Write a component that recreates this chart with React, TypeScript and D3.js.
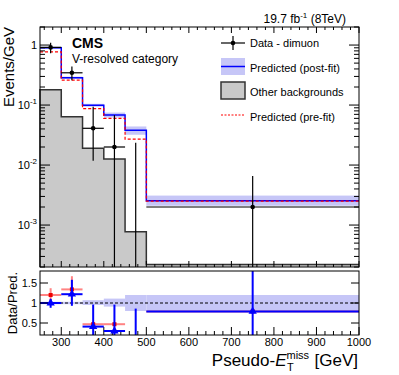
import React from "react";
import * as d3 from "d3";

const binEdges = [250, 300, 350, 400, 450, 500, 1000];
const postFit = [0.9, 0.285, 0.099, 0.068, 0.038, 0.00254];
const postFitLo = [0.86, 0.272, 0.094, 0.062, 0.032, 0.0021];
const postFitHi = [0.94, 0.298, 0.105, 0.075, 0.044, 0.0031];
const preFit = [0.77, 0.26, 0.087, 0.06, 0.027, 0.0025];
const otherBkg = [0.18, 0.064, 0.019, 0.0126, 0.00077, 0.00022];

const dataX = [275, 325, 375, 425, 475, 750];
const dataY = [0.915, 0.345, 0.041, 0.02, 0, 0.002];
const dataHi = [1.09, 0.44, 0.094, 0.068, 0.0235, 0.0066];
const dataLo = [0.73, 0.26, 0.0118, 0, 0, 0];

const ratioBandLo = [0.97, 0.97, 0.95, 0.91, 0.8, 0.8];
const ratioBandHi = [1.03, 1.03, 1.07, 1.11, 1.2, 1.2];
const ratioPost = [1.0, 1.22, 0.41, 0.3, null, 0.79];
const ratioPostLo = [0.88, 0.93, 0.2, 0.2, 0.2, 0.2];
const ratioPostHi = [1.1, 1.58, 0.96, 0.96, 0.86, 1.8];
const ratioPre = [1.2, 1.34, 0.47, 0.47, null, 0.79];
const ratioPreLo = [1.05, 1.05, 0.44, 0.44, null, 0.79];
const ratioPreHi = [1.37, 1.67, 0.5, 0.5, null, 0.79];

const xTicks = [300, 400, 500, 600, 700, 800, 900, 1000];
const yTicks = [1, 0.1, 0.01, 0.001];
const ratioTicks = [0.5, 1, 1.5];

const FONT = "Liberation Sans, Arial, Helvetica, sans-serif";

const x = d3.scaleLinear().domain([250, 1000]).range([40, 359]);
const y = d3.scaleLog().domain([2e-4, 2]).range([267, 27]);
const yr = d3.scaleLinear().domain([0.2, 1.8]).range([335, 271]);

const yMin = y.domain()[0];

const steps = (vals: number[]) =>
  vals.flatMap((v, i) => [
    [x(binEdges[i]), y(v)],
    [x(binEdges[i + 1]), y(v)],
  ]) as [number, number][];

const line = d3.line();

const logTicks: { v: number; major: boolean }[] = [];
for (let e = -4; e <= 0; e++) {
  for (let m = 1; m <= 9; m++) {
    const v = m * Math.pow(10, e);
    if (v >= yMin && v <= 2) logTicks.push({ v, major: m === 1 });
  }
}
const xMinor = d3.range(260, 1000, 20).filter((v) => v % 100 !== 0);

const supLabel = (v: number) => {
  if (v === 1) return <tspan>1</tspan>;
  const e = Math.round(Math.log10(v));
  return (
    <>
      <tspan>10</tspan>
      <tspan fontSize={8} dy={-5}>{e}</tspan>
    </>
  );
};

export default function App() {
  const grayArea = d3
    .area<[number, number]>()
    .x((d) => d[0])
    .y0(y(yMin))
    .y1((d) => d[1])(steps(otherBkg)) as string;

  const tri = d3.symbol(d3.symbolTriangle, 30)() as string;

  return (
    <svg
      width={399}
      height={375}
      style={{ position: "absolute", left: 0, top: 0, fontFamily: FONT }}
    >
      <rect width={399} height={375} fill="white" />
      {/* top panel */}
      <path d={grayArea} fill="#c9c9c9" />
      <path
        d={line([[x(250), y(yMin)], ...steps(otherBkg)]) as string}
        fill="none"
        stroke="#333"
        strokeWidth={1.5}
      />
      {postFit.map((_, i) => (
        <rect
          key={"b" + i}
          x={x(binEdges[i])}
          width={x(binEdges[i + 1]) - x(binEdges[i])}
          y={y(postFitHi[i])}
          height={y(postFitLo[i]) - y(postFitHi[i])}
          fill="#c6c6f7"
        />
      ))}
      <path d={line(steps(postFit)) as string} fill="none" stroke="#0000ff" strokeWidth={1.5} />
      <path
        d={line(steps(preFit)) as string}
        fill="none"
        stroke="#ff0000"
        strokeWidth={1.2}
        strokeDasharray="3,2"
      />
      {dataX.map((dx, i) => (
        <g key={"d" + i} stroke="black" strokeWidth={1.2}>
          <line
            x1={x(dx)}
            x2={x(dx)}
            y1={y(dataHi[i])}
            y2={y(Math.max(dataLo[i], yMin))}
          />
          {dataY[i] > 0 && (
            <>
              <line x1={x(binEdges[i])} x2={x(binEdges[i + 1])} y1={y(dataY[i])} y2={y(dataY[i])} />
              <circle cx={x(dx)} cy={y(dataY[i])} r={2.3} fill="black" stroke="none" />
            </>
          )}
        </g>
      ))}
      {/* top panel axes */}
      <rect x={40} y={27} width={319} height={240} fill="none" stroke="black" strokeWidth={1} />
      <g stroke="black" strokeWidth={1}>
        {logTicks.map((t, i) => {
          const len = t.major ? 10 : 5;
          return (
            <g key={"lt" + i}>
              <line x1={40} x2={40 + len} y1={y(t.v)} y2={y(t.v)} />
              <line x1={359} x2={359 - len} y1={y(t.v)} y2={y(t.v)} />
            </g>
          );
        })}
        {xTicks.map((v) => (
          <g key={"xt" + v}>
            <line x1={x(v)} x2={x(v)} y1={27} y2={33} />
            <line x1={x(v)} x2={x(v)} y1={267} y2={261} />
            <line x1={x(v)} x2={x(v)} y1={335} y2={327} />
          </g>
        ))}
        {xMinor.map((v) => (
          <g key={"xm" + v}>
            <line x1={x(v)} x2={x(v)} y1={27} y2={30} />
            <line x1={x(v)} x2={x(v)} y1={267} y2={264} />
            <line x1={x(v)} x2={x(v)} y1={335} y2={331} />
          </g>
        ))}
      </g>
      {yTicks.map((v) => (
        <text key={"yl" + v} x={37} y={y(v) + 4} fontSize={11} textAnchor="end">
          {supLabel(v)}
        </text>
      ))}
      <text
        transform="translate(14,27) rotate(-90)"
        textAnchor="end"
        fontSize={15}
      >
        Events/GeV
      </text>
      <text x={72} y={48} fontSize={14} fontWeight="bold">CMS</text>
      <text x={72} y={63} fontSize={12}>V-resolved category</text>
      <text x={346} y={23} fontSize={12} textAnchor="end">
        19.7 fb<tspan fontSize={8} dy={-5}>-1</tspan>
        <tspan dy={5}> (8TeV)</tspan>
      </text>

      {/* legend */}
      <g>
        <line x1={221} x2={245} y1={43} y2={43} stroke="black" strokeWidth={1.2} />
        <line x1={233} x2={233} y1={36} y2={50} stroke="black" strokeWidth={1.2} />
        <circle cx={233} cy={43} r={2.3} fill="black" />
        <text x={250} y={47} fontSize={11}>Data - dimuon</text>
        <rect x={221} y={58} width={24} height={17} fill="#c6c6f7" />
        <line x1={221} x2={245} y1={66.5} y2={66.5} stroke="#0000ff" strokeWidth={1.5} />
        <text x={250} y={72} fontSize={11}>Predicted (post-fit)</text>
        <rect x={221} y={82} width={24} height={17} fill="#c9c9c9" stroke="#333" strokeWidth={1.5} />
        <text x={250} y={96} fontSize={11}>Other backgrounds</text>
        <line x1={221} x2={245} y1={115} y2={115} stroke="#ff0000" strokeWidth={1.2} strokeDasharray="2,1.5" />
        <text x={250} y={121} fontSize={11}>Predicted (pre-fit)</text>
      </g>

      {/* ratio panel */}
      {ratioBandLo.map((_, i) => (
        <rect
          key={"rb" + i}
          x={x(binEdges[i])}
          width={x(binEdges[i + 1]) - x(binEdges[i])}
          y={yr(ratioBandHi[i])}
          height={yr(ratioBandLo[i]) - yr(ratioBandHi[i])}
          fill="#c6c6f7"
        />
      ))}
      <line x1={40} x2={359} y1={yr(1)} y2={yr(1)} stroke="black" strokeWidth={1} strokeDasharray="3,2" />
      {ratioPre.map((v, i) =>
        v === null ? null : (
          <g key={"rp" + i} stroke="#ff4040" strokeOpacity={0.65} strokeWidth={2}>
            <line x1={x(dataX[i])} x2={x(dataX[i])} y1={yr(ratioPreHi[i] as number)} y2={yr(ratioPreLo[i] as number)} />
            <line x1={x(binEdges[i])} x2={x(binEdges[i + 1])} y1={yr(v)} y2={yr(v)} />
            <rect x={x(dataX[i]) - 2} y={yr(v) - 2} width={4} height={4} fill="#ee0000" stroke="none" />
          </g>
        )
      )}
      {ratioPostLo.map((lo, i) => {
        const v = ratioPost[i];
        return (
          <g key={"rq" + i} stroke="#0000ff" strokeWidth={2}>
            <line x1={x(dataX[i])} x2={x(dataX[i])} y1={yr(ratioPostHi[i])} y2={yr(lo)} />
            {v !== null && (
              <>
                <line x1={x(binEdges[i])} x2={x(binEdges[i + 1])} y1={yr(v)} y2={yr(v)} />
                <path d={tri} transform={`translate(${x(dataX[i])},${yr(v)})`} fill="#0000ff" stroke="none" />
              </>
            )}
          </g>
        );
      })}
      <rect x={40} y={271} width={319} height={64} fill="none" stroke="black" strokeWidth={1} />
      <g stroke="black" strokeWidth={1}>
        {ratioTicks.map((v) => (
          <g key={"rt" + v}>
            <line x1={40} x2={48} y1={yr(v)} y2={yr(v)} />
            <line x1={359} x2={351} y1={yr(v)} y2={yr(v)} />
          </g>
        ))}
      </g>
      {ratioTicks.map((v) => (
        <text key={"rl" + v} x={37} y={yr(v) + 4} fontSize={11} textAnchor="end">
          {v}
        </text>
      ))}
      <text transform="translate(17,272) rotate(-90)" textAnchor="end" fontSize={13}>
        Data/Pred.
      </text>
      {xTicks.map((v) => (
        <text key={"xl" + v} x={x(v)} y={346} fontSize={11} textAnchor="middle">
          {v}
        </text>
      ))}
      <text x={358} y={366} fontSize={17} textAnchor="end">
        Pseudo-<tspan fontStyle="italic">E</tspan>
        <tspan fontSize={11} dy={-7}>miss</tspan>
        <tspan fontSize={11} dx={-22} dy={12}>T</tspan>
        <tspan dx={16} dy={-5}> [GeV]</tspan>
      </text>
    </svg>
  );
}
